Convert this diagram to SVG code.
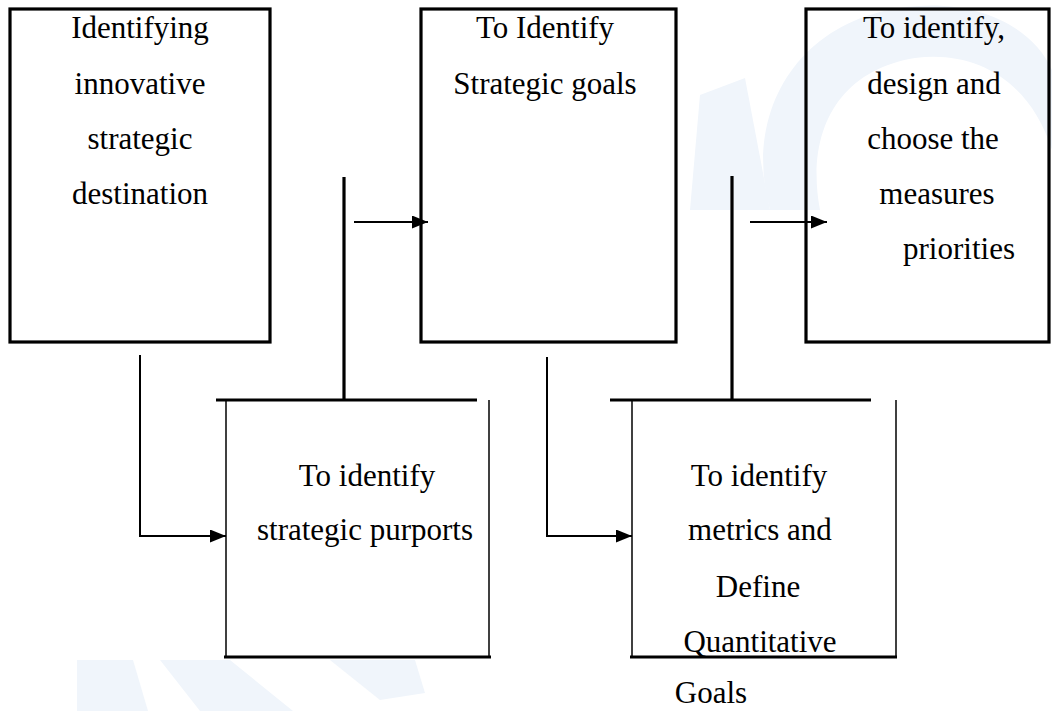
<svg xmlns="http://www.w3.org/2000/svg" width="1052" height="711" viewBox="0 0 1052 711">
<defs>
<style>
.t{font-family:"Liberation Serif","Times New Roman",serif;font-size:31px;fill:#000;text-anchor:middle}
.box{fill:none;stroke:#000;stroke-width:3.2}
.thick{stroke:#000;stroke-width:3.2;fill:none}
.thin{stroke:#000;stroke-width:1.5;fill:none}
.conn{stroke:#000;stroke-width:2;fill:none}
.wm{fill:#f0f5fb}
</style>
<marker id="ah" viewBox="0 0 16 13" refX="16" refY="6.5" markerWidth="16" markerHeight="13" markerUnits="userSpaceOnUse" orient="auto">
<path d="M0,0 L16,6.5 L0,13 Z" fill="#000"/>
</marker>
</defs>
<rect width="1052" height="711" fill="#fff"/>
<g id="watermark">
<path class="wm" d="M770 210 C745 120 790 35 880 12 C960 -8 1030 20 1052 70 L1052 150 C1030 80 975 50 915 58 C840 70 805 130 820 210 Z"/>
<path class="wm" d="M700 95 L745 78 L770 210 L690 210 Z"/>
<path class="wm" d="M77 660 L133 660 L148 711 L77 711 Z"/>
<path class="wm" d="M160 660 L230 660 L293 711 L200 711 Z"/>
<path class="wm" d="M330 660 L415 660 L425 693 L380 700 Z"/>
</g>
<g id="n1">
<rect class="box" x="10" y="9" width="260" height="333"/>
<text class="t" x="140" y="38">Identifying</text>
<text class="t" x="140" y="94">innovative</text>
<text class="t" x="140" y="149">strategic</text>
<text class="t" x="140" y="204">destination</text>
</g>
<g id="n2">
<rect class="box" x="421" y="9" width="255" height="333"/>
<text class="t" x="545" y="38">To Identify</text>
<text class="t" x="545" y="94">Strategic goals</text>
</g>
<g id="n3">
<rect class="box" x="806" y="9" width="243" height="333"/>
<text class="t" x="934" y="38">To identify,</text>
<text class="t" x="934" y="94">design and</text>
<text class="t" x="933" y="149">choose the</text>
<text class="t" x="937" y="204">measures</text>
<text class="t" x="959" y="259">priorities</text>
</g>
<g id="n4">
<line class="thick" x1="216" y1="400" x2="477" y2="400"/>
<line class="thin" x1="226" y1="400" x2="226" y2="657"/>
<line class="thin" x1="489" y1="400" x2="489" y2="657"/>
<line class="thick" x1="224" y1="657" x2="491" y2="657"/>
<text class="t" x="367" y="486">To identify</text>
<text class="t" x="365" y="540">strategic purports</text>
</g>
<g id="n5">
<line class="thick" x1="610" y1="400" x2="871" y2="400"/>
<line class="thin" x1="632" y1="400" x2="632" y2="657"/>
<line class="thin" x1="896" y1="400" x2="896" y2="657"/>
<line class="thick" x1="630" y1="657" x2="897" y2="657"/>
<text class="t" x="759" y="486">To identify</text>
<text class="t" x="760" y="540">metrics and</text>
<text class="t" x="758" y="597">Define</text>
<text class="t" x="760" y="652">Quantitative</text>
<text class="t" x="711" y="703">Goals</text>
</g>
<g id="connectors">
<line class="thick" x1="344" y1="177" x2="344" y2="400"/>
<line class="thick" x1="732" y1="176" x2="732" y2="400"/>
<line class="conn" x1="354" y1="222" x2="428" y2="222" marker-end="url(#ah)"/>
<line class="conn" x1="750" y1="222" x2="827" y2="222" marker-end="url(#ah)"/>
<polyline class="conn" points="140,355 140,536 226,536" marker-end="url(#ah)"/>
<polyline class="conn" points="547,357 547,536 632,536" marker-end="url(#ah)"/>
</g>
</svg>
